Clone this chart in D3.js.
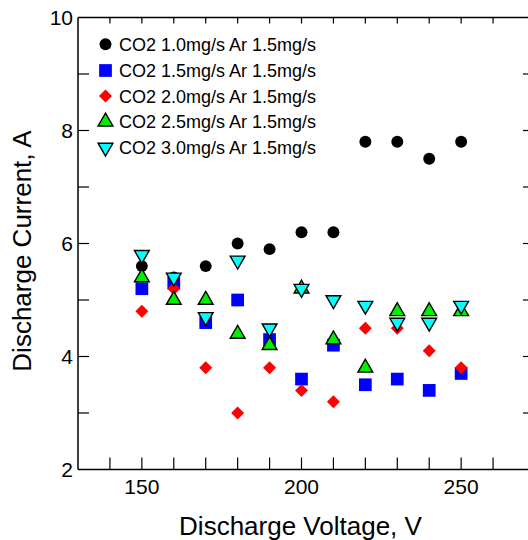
<!DOCTYPE html>
<html><head><meta charset="utf-8">
<script src="https://cdn.jsdelivr.net/npm/d3@7"></script>
<style>html,body{margin:0;padding:0;background:#fff;}svg{display:block;font-family:"Liberation Sans",Arial,sans-serif;}</style>
</head><body>
<svg id="c" width="528" height="540"></svg>
<script>
const voltages = [150,160,170,180,190,200,210,220,230,240,250];
const seriesNames = ["CO2 1.0mg/s Ar 1.5mg/s","CO2 1.5mg/s Ar 1.5mg/s","CO2 2.0mg/s Ar 1.5mg/s","CO2 2.5mg/s Ar 1.5mg/s","CO2 3.0mg/s Ar 1.5mg/s"];
const co2_10 = [5.6,5.4,5.6,6.0,5.9,6.2,6.2,7.8,7.8,7.5,7.8];
const co2_15 = [5.2,5.3,4.6,5.0,4.3,3.6,4.2,3.5,3.6,3.4,3.7];
const co2_20 = [4.8,5.2,3.8,3.0,3.8,3.4,3.2,4.5,4.5,4.1,3.8];
const co2_25 = [5.4,5.0,5.0,4.4,4.2,5.2,4.3,3.8,4.8,4.8,4.8];
const co2_30 = [5.8,5.4,4.7,5.7,4.5,5.2,5.0,4.9,4.6,4.6,4.9];
const xTicks = [150,200,250];
const xMinor = [140,150,160,170,180,190,200,210,220,230,240,250,260];
const yTicks = [2,4,6,8,10];
const yMinor = [3,4,5,6,7,8,9];

const svg = d3.select("#c");
const L=78, R=525, T=17.5, B=469.5;
const x = d3.scaleLinear().domain([130,270]).range([L,R]);
const y = d3.scaleLinear().domain([2,10]).range([B,T]);

const styles = [
  {type:d3.symbolCircle, size:112, fill:"#000", stroke:"none"},
  {type:d3.symbolSquare, size:162, fill:"#0000ff", stroke:"none"},
  {type:d3.symbolSquare, size:84, fill:"#ff0000", stroke:"none", rot:45},
  {type:d3.symbolTriangle, size:95, fill:"#00ee00", stroke:"#000"},
  {type:d3.symbolTriangle, size:95, fill:"#00ffff", stroke:"#000", rot:180}
];
const allSeries = [co2_10, co2_15, co2_20, co2_25, co2_30];

// frame
const g = svg.append("g");
g.append("line").attr("x1",L).attr("x2",L).attr("y1",T).attr("y2",B).attr("stroke","#000").attr("stroke-width",1.5);
g.append("line").attr("x1",L).attr("x2",528).attr("y1",B).attr("y2",B).attr("stroke","#000").attr("stroke-width",1.5);
g.append("line").attr("x1",L).attr("x2",528).attr("y1",T).attr("y2",T).attr("stroke","#000").attr("stroke-width",1.5);

// ticks (inward)
g.selectAll(".bt").data(xMinor).join("line").attr("x1",d=>x(d)).attr("x2",d=>x(d)).attr("y1",B).attr("y2",B-12).attr("stroke","#000").attr("stroke-width",1.2);
g.selectAll(".tt").data(xMinor).join("line").attr("x1",d=>x(d)).attr("x2",d=>x(d)).attr("y1",T).attr("y2",T+6).attr("stroke","#000").attr("stroke-width",1.2);
g.selectAll(".lt").data(yMinor).join("line").attr("x1",L).attr("x2",L+11).attr("y1",d=>y(d)).attr("y2",d=>y(d)).attr("stroke","#000").attr("stroke-width",1.2);
g.selectAll(".rt").data(yMinor).join("line").attr("x1",R-2).attr("x2",R+3).attr("y1",d=>y(d)).attr("y2",d=>y(d)).attr("stroke","#000").attr("stroke-width",1.2);

// tick labels
g.selectAll(".xl").data(xTicks).join("text").attr("x",d=>x(d)).attr("y",494).attr("text-anchor","middle").attr("font-size",21).text(d=>d);
g.selectAll(".yl").data(yTicks).join("text").attr("x",73).attr("y",d=>y(d)+7.5).attr("text-anchor","end").attr("font-size",21).text(d=>d);

// axis titles
svg.append("text").attr("x",(L+R)/2-1).attr("y",535).attr("text-anchor","middle").attr("font-size",26).text("Discharge Voltage, V");
svg.append("text").attr("transform","translate(31,251) rotate(-90)").attr("text-anchor","middle").attr("font-size",26).text("Discharge Current, A");

function marker(sel, s){
  sel.attr("d", d3.symbol().type(s.type).size(s.size)())
     .attr("fill", s.fill).attr("stroke", s.stroke).attr("stroke-width", s.stroke==="none"?0:1.4)
     .attr("stroke-linejoin","miter");
}

allSeries.forEach((vals,i)=>{
  const s = styles[i];
  const pts = vals.map((v,j)=>({x:voltages[j], y:v}));
  g.append("g").selectAll("path").data(pts).join("path")
    .call(marker, s)
    .attr("transform", d=>`translate(${x(d.x)},${y(d.y)})${s.rot?` rotate(${s.rot})`:""}`);
});

// legend
const legY = [44.3,70.5,96,121.7,147.5];
seriesNames.forEach((name,i)=>{
  const s = styles[i];
  svg.append("path").call(marker, s).attr("transform",`translate(105.5,${legY[i]})${s.rot?` rotate(${s.rot})`:""}`);
  svg.append("text").attr("x",119).attr("y",legY[i]+6.5).attr("font-size",18).text(name);
});
</script>
</body></html>
